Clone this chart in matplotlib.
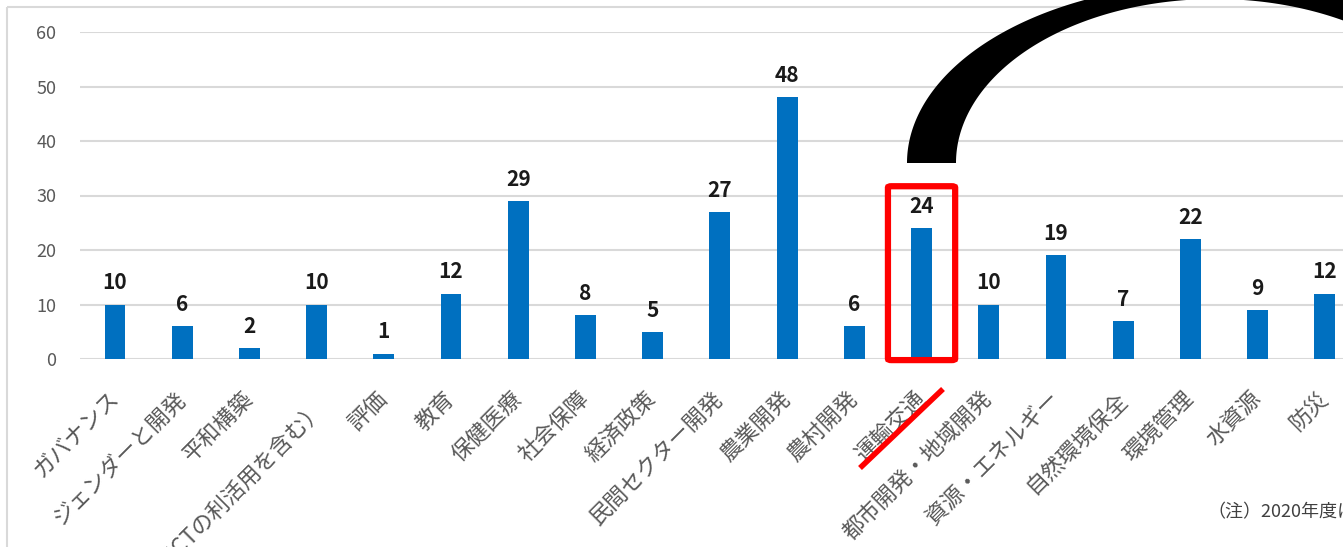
import matplotlib
matplotlib.use("Agg")
import numpy as np
import matplotlib.pyplot as plt
from matplotlib.patches import FancyBboxPatch, Rectangle
from matplotlib.lines import Line2D

plt.rcParams['font.family'] = ['Noto Sans CJK JP', 'DejaVu Sans']

categories = ["ガバナンス", "ジェンダーと開発", "平和構築", "（ICTの利活用を含む）", "評価",
              "教育", "保健医療", "社会保障", "経済政策", "民間セクター開発", "農業開発",
              "農村開発", "運輸交通", "都市開発・地域開発", "資源・エネルギー",
              "自然環境保全", "環境管理", "水資源", "防災"]
values = [10, 6, 2, 10, 1, 12, 29, 8, 5, 27, 48, 6, 24, 10, 19, 7, 22, 9, 12]
yticks = [0, 10, 20, 30, 40, 50, 60]
highlight = "運輸交通"
note = "（注）2020年度に"

W, H = 1343, 547
fig = plt.figure(figsize=(W / 100, H / 100), dpi=100)

# overlay in pixel coords for the frame and hand-drawn marks
bg = fig.add_axes([0, 0, 1, 1])
bg.set_xlim(0, W); bg.set_ylim(H, 0); bg.axis("off")
bg.add_patch(Rectangle((7, 7), W + 50, H + 50, fill=False, ec="#d9d9d9", lw=1.5))

ax = fig.add_axes([80 / W, 1 - 359 / H, 1 - 80 / W, (359 - 32) / H])
ax.set_zorder(2)
ax.patch.set_alpha(0)
x = list(range(len(categories)))
ax.bar(x, values, width=0.31, color="#0070C0", zorder=3)
ax.set_xlim(-0.52, 18.27)
ax.set_ylim(0, 60)
ax.set_yticks(yticks)
ax.yaxis.grid(True, color="#d9d9d9", lw=1.5, zorder=0)
for s in ax.spines.values():
    s.set_visible(False)
ax.tick_params(axis="both", length=0)
ax.tick_params(axis="y", labelsize=13, labelcolor="#595959", pad=17)
ax.set_xticks(x)
ax.set_xticklabels(categories, rotation=45, ha="right", va="center",
                   rotation_mode="anchor", fontsize=16, color="#595959")
ax.tick_params(axis="x", pad=26)
for xi, v in zip(x, values):
    ax.annotate(str(v), (xi, v), xytext=(0, 8), textcoords="offset points",
                ha="center", va="bottom", fontsize=15, fontweight="bold",
                color="#1a1a1a", zorder=4)

# red highlight box and underline
hi = categories.index(highlight)
box = FancyBboxPatch((hi - 0.5, -0.2), 1.0, values[hi] + 7.9,
                     boxstyle="round,pad=0,rounding_size=0.05",
                     fill=False, ec="#ff0000", lw=4.5, zorder=5,
                     clip_on=False, mutation_aspect=5)
ax.add_patch(box)
bg.add_line(Line2D([860, 943], [468, 389], color="#ff0000", lw=4, solid_capstyle="butt"))

# big black arc (filled band between two ellipses)
t = np.linspace(0, np.pi, 300)
cx, cy = 1215, 163
xo, yo = cx + 308 * np.cos(t), cy - 180 * np.sin(t)
xi_, yi_ = cx + 259 * np.cos(t[::-1]), cy - 164 * np.sin(t[::-1])
bg.fill(np.r_[xo, xi_], np.r_[yo, yi_], color="black", lw=0, zorder=10)
bg.set_zorder(3)

bg.text(1207, 512, note, fontsize=13, color="#404040", va="center", ha="left")

fig.savefig("out.png", dpi=100)
